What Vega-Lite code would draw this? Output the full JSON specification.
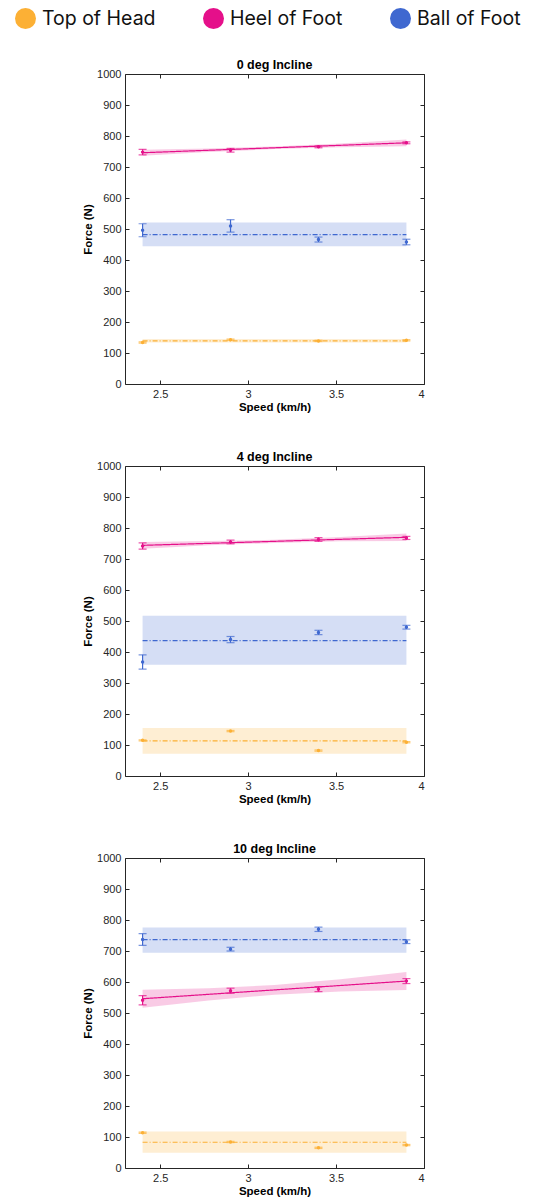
{
  "$schema": "https://vega.github.io/schema/vega-lite/v6.json",
  "background": "white",
  "padding": {"left": 15, "top": 8, "right": 5, "bottom": 0},
  "config": {
    "font": "Liberation Sans",
    "view": {"stroke": "#262626", "strokeWidth": 1},
    "axis": {
      "domain": false,
      "grid": false,
      "tickColor": "#262626",
      "tickSize": -4,
      "labelPadding": 8,
      "labelFont": "Liberation Sans",
      "labelFontSize": 11,
      "labelColor": "#262626",
      "titleFont": "Liberation Sans",
      "titleFontSize": 11.5,
      "titleFontWeight": "bold",
      "titleColor": "#000000"
    }
  },
  "data": {
    "values": [
      {"incline": "0 deg Incline", "series": "Heel of Foot", "kind": "obs", "speed": 2.4, "force": 748, "lo": 739, "hi": 757},
      {"incline": "0 deg Incline", "series": "Heel of Foot", "kind": "obs", "speed": 2.9, "force": 754, "lo": 748, "hi": 760},
      {"incline": "0 deg Incline", "series": "Heel of Foot", "kind": "obs", "speed": 3.4, "force": 765, "lo": 762, "hi": 768},
      {"incline": "0 deg Incline", "series": "Heel of Foot", "kind": "obs", "speed": 3.9, "force": 778, "lo": 775, "hi": 781},
      {"incline": "0 deg Incline", "series": "Heel of Foot", "kind": "fit", "speed": 2.4, "force": 746},
      {"incline": "0 deg Incline", "series": "Heel of Foot", "kind": "fit", "speed": 3.9, "force": 778},
      {"incline": "0 deg Incline", "series": "Heel of Foot", "kind": "band", "speed": 2.4, "lo": 736, "hi": 756},
      {"incline": "0 deg Incline", "series": "Heel of Foot", "kind": "band", "speed": 2.775, "lo": 748, "hi": 760},
      {"incline": "0 deg Incline", "series": "Heel of Foot", "kind": "band", "speed": 3.15, "lo": 758, "hi": 766},
      {"incline": "0 deg Incline", "series": "Heel of Foot", "kind": "band", "speed": 3.525, "lo": 764, "hi": 776},
      {"incline": "0 deg Incline", "series": "Heel of Foot", "kind": "band", "speed": 3.9, "lo": 767, "hi": 789},

      {"incline": "0 deg Incline", "series": "Ball of Foot", "kind": "obs", "speed": 2.4, "force": 496, "lo": 475, "hi": 517},
      {"incline": "0 deg Incline", "series": "Ball of Foot", "kind": "obs", "speed": 2.9, "force": 510, "lo": 490, "hi": 530},
      {"incline": "0 deg Incline", "series": "Ball of Foot", "kind": "obs", "speed": 3.4, "force": 466, "lo": 458, "hi": 474},
      {"incline": "0 deg Incline", "series": "Ball of Foot", "kind": "obs", "speed": 3.9, "force": 458, "lo": 449, "hi": 467},
      {"incline": "0 deg Incline", "series": "Ball of Foot", "kind": "fit", "speed": 2.4, "force": 482},
      {"incline": "0 deg Incline", "series": "Ball of Foot", "kind": "fit", "speed": 3.9, "force": 482},
      {"incline": "0 deg Incline", "series": "Ball of Foot", "kind": "band", "speed": 2.4, "lo": 444, "hi": 521},
      {"incline": "0 deg Incline", "series": "Ball of Foot", "kind": "band", "speed": 3.9, "lo": 444, "hi": 521},

      {"incline": "0 deg Incline", "series": "Top of Head", "kind": "obs", "speed": 2.4, "force": 134, "lo": 132, "hi": 136},
      {"incline": "0 deg Incline", "series": "Top of Head", "kind": "obs", "speed": 2.9, "force": 143, "lo": 141, "hi": 145},
      {"incline": "0 deg Incline", "series": "Top of Head", "kind": "obs", "speed": 3.4, "force": 139, "lo": 137, "hi": 141},
      {"incline": "0 deg Incline", "series": "Top of Head", "kind": "obs", "speed": 3.9, "force": 141, "lo": 139, "hi": 143},
      {"incline": "0 deg Incline", "series": "Top of Head", "kind": "fit", "speed": 2.4, "force": 139},
      {"incline": "0 deg Incline", "series": "Top of Head", "kind": "fit", "speed": 3.9, "force": 139},
      {"incline": "0 deg Incline", "series": "Top of Head", "kind": "band", "speed": 2.4, "lo": 134, "hi": 145},
      {"incline": "0 deg Incline", "series": "Top of Head", "kind": "band", "speed": 3.9, "lo": 134, "hi": 145},

      {"incline": "4 deg Incline", "series": "Heel of Foot", "kind": "obs", "speed": 2.4, "force": 742, "lo": 732, "hi": 752},
      {"incline": "4 deg Incline", "series": "Heel of Foot", "kind": "obs", "speed": 2.9, "force": 755, "lo": 749, "hi": 761},
      {"incline": "4 deg Incline", "series": "Heel of Foot", "kind": "obs", "speed": 3.4, "force": 763, "lo": 757, "hi": 769},
      {"incline": "4 deg Incline", "series": "Heel of Foot", "kind": "obs", "speed": 3.9, "force": 768, "lo": 763, "hi": 773},
      {"incline": "4 deg Incline", "series": "Heel of Foot", "kind": "fit", "speed": 2.4, "force": 744},
      {"incline": "4 deg Incline", "series": "Heel of Foot", "kind": "fit", "speed": 3.9, "force": 770},
      {"incline": "4 deg Incline", "series": "Heel of Foot", "kind": "band", "speed": 2.4, "lo": 733, "hi": 755},
      {"incline": "4 deg Incline", "series": "Heel of Foot", "kind": "band", "speed": 2.775, "lo": 744, "hi": 758},
      {"incline": "4 deg Incline", "series": "Heel of Foot", "kind": "band", "speed": 3.15, "lo": 752, "hi": 762},
      {"incline": "4 deg Incline", "series": "Heel of Foot", "kind": "band", "speed": 3.525, "lo": 757, "hi": 771},
      {"incline": "4 deg Incline", "series": "Heel of Foot", "kind": "band", "speed": 3.9, "lo": 758, "hi": 782},

      {"incline": "4 deg Incline", "series": "Ball of Foot", "kind": "obs", "speed": 2.4, "force": 368, "lo": 345, "hi": 391},
      {"incline": "4 deg Incline", "series": "Ball of Foot", "kind": "obs", "speed": 2.9, "force": 440, "lo": 430, "hi": 450},
      {"incline": "4 deg Incline", "series": "Ball of Foot", "kind": "obs", "speed": 3.4, "force": 463, "lo": 456, "hi": 470},
      {"incline": "4 deg Incline", "series": "Ball of Foot", "kind": "obs", "speed": 3.9, "force": 480, "lo": 474, "hi": 486},
      {"incline": "4 deg Incline", "series": "Ball of Foot", "kind": "fit", "speed": 2.4, "force": 437},
      {"incline": "4 deg Incline", "series": "Ball of Foot", "kind": "fit", "speed": 3.9, "force": 437},
      {"incline": "4 deg Incline", "series": "Ball of Foot", "kind": "band", "speed": 2.4, "lo": 359, "hi": 517},
      {"incline": "4 deg Incline", "series": "Ball of Foot", "kind": "band", "speed": 3.9, "lo": 359, "hi": 517},

      {"incline": "4 deg Incline", "series": "Top of Head", "kind": "obs", "speed": 2.4, "force": 115, "lo": 113, "hi": 117},
      {"incline": "4 deg Incline", "series": "Top of Head", "kind": "obs", "speed": 2.9, "force": 145, "lo": 143, "hi": 147},
      {"incline": "4 deg Incline", "series": "Top of Head", "kind": "obs", "speed": 3.4, "force": 82, "lo": 80, "hi": 84},
      {"incline": "4 deg Incline", "series": "Top of Head", "kind": "obs", "speed": 3.9, "force": 109, "lo": 107, "hi": 111},
      {"incline": "4 deg Incline", "series": "Top of Head", "kind": "fit", "speed": 2.4, "force": 113},
      {"incline": "4 deg Incline", "series": "Top of Head", "kind": "fit", "speed": 3.9, "force": 113},
      {"incline": "4 deg Incline", "series": "Top of Head", "kind": "band", "speed": 2.4, "lo": 72, "hi": 155},
      {"incline": "4 deg Incline", "series": "Top of Head", "kind": "band", "speed": 3.9, "lo": 72, "hi": 155},

      {"incline": "10 deg Incline", "series": "Heel of Foot", "kind": "obs", "speed": 2.4, "force": 541, "lo": 526, "hi": 556},
      {"incline": "10 deg Incline", "series": "Heel of Foot", "kind": "obs", "speed": 2.9, "force": 572, "lo": 564, "hi": 580},
      {"incline": "10 deg Incline", "series": "Heel of Foot", "kind": "obs", "speed": 3.4, "force": 577, "lo": 569, "hi": 585},
      {"incline": "10 deg Incline", "series": "Heel of Foot", "kind": "obs", "speed": 3.9, "force": 603, "lo": 595, "hi": 611},
      {"incline": "10 deg Incline", "series": "Heel of Foot", "kind": "fit", "speed": 2.4, "force": 546},
      {"incline": "10 deg Incline", "series": "Heel of Foot", "kind": "fit", "speed": 3.9, "force": 603},
      {"incline": "10 deg Incline", "series": "Heel of Foot", "kind": "band", "speed": 2.4, "lo": 517, "hi": 575},
      {"incline": "10 deg Incline", "series": "Heel of Foot", "kind": "band", "speed": 2.775, "lo": 540, "hi": 580},
      {"incline": "10 deg Incline", "series": "Heel of Foot", "kind": "band", "speed": 3.15, "lo": 559, "hi": 590},
      {"incline": "10 deg Incline", "series": "Heel of Foot", "kind": "band", "speed": 3.525, "lo": 569, "hi": 609},
      {"incline": "10 deg Incline", "series": "Heel of Foot", "kind": "band", "speed": 3.9, "lo": 574, "hi": 632},

      {"incline": "10 deg Incline", "series": "Ball of Foot", "kind": "obs", "speed": 2.4, "force": 737, "lo": 718, "hi": 756},
      {"incline": "10 deg Incline", "series": "Ball of Foot", "kind": "obs", "speed": 2.9, "force": 706, "lo": 700, "hi": 712},
      {"incline": "10 deg Incline", "series": "Ball of Foot", "kind": "obs", "speed": 3.4, "force": 770, "lo": 763, "hi": 777},
      {"incline": "10 deg Incline", "series": "Ball of Foot", "kind": "obs", "speed": 3.9, "force": 730, "lo": 724, "hi": 736},
      {"incline": "10 deg Incline", "series": "Ball of Foot", "kind": "fit", "speed": 2.4, "force": 737},
      {"incline": "10 deg Incline", "series": "Ball of Foot", "kind": "fit", "speed": 3.9, "force": 737},
      {"incline": "10 deg Incline", "series": "Ball of Foot", "kind": "band", "speed": 2.4, "lo": 694, "hi": 776},
      {"incline": "10 deg Incline", "series": "Ball of Foot", "kind": "band", "speed": 3.9, "lo": 694, "hi": 776},

      {"incline": "10 deg Incline", "series": "Top of Head", "kind": "obs", "speed": 2.4, "force": 114, "lo": 112, "hi": 116},
      {"incline": "10 deg Incline", "series": "Top of Head", "kind": "obs", "speed": 2.9, "force": 84, "lo": 82, "hi": 86},
      {"incline": "10 deg Incline", "series": "Top of Head", "kind": "obs", "speed": 3.4, "force": 65, "lo": 63, "hi": 67},
      {"incline": "10 deg Incline", "series": "Top of Head", "kind": "obs", "speed": 3.9, "force": 74, "lo": 72, "hi": 76},
      {"incline": "10 deg Incline", "series": "Top of Head", "kind": "fit", "speed": 2.4, "force": 83},
      {"incline": "10 deg Incline", "series": "Top of Head", "kind": "fit", "speed": 3.9, "force": 83},
      {"incline": "10 deg Incline", "series": "Top of Head", "kind": "band", "speed": 2.4, "lo": 49, "hi": 118},
      {"incline": "10 deg Incline", "series": "Top of Head", "kind": "band", "speed": 3.9, "lo": 49, "hi": 118}
    ]
  },
  "facet": {
    "row": {
      "field": "incline",
      "type": "nominal",
      "sort": ["0 deg Incline", "4 deg Incline", "10 deg Incline"],
      "header": {
        "title": null,
        "labelOrient": "top",
        "labelAngle": 0,
        "labelFont": "Liberation Sans",
        "labelFontSize": 12.5,
        "labelFontWeight": "bold",
        "labelColor": "#000000",
        "labelPadding": -16
      }
    }
  },
  "spacing": {"row": 37},
  "resolve": {"axis": {"x": "independent", "y": "independent"}},
  "spec": {
    "width": 299,
    "height": 310,
    "encoding": {
      "x": {
        "field": "speed",
        "type": "quantitative",
        "scale": {"domain": [2.3, 4], "nice": false},
        "axis": null
      },
      "y": {
        "field": "force",
        "type": "quantitative",
        "scale": {"domain": [0, 1000], "nice": false},
        "axis": null
      },
      "color": {
        "field": "series",
        "type": "nominal",
        "scale": {
          "domain": ["Top of Head", "Heel of Foot", "Ball of Foot"],
          "range": ["#FCB035", "#E5108A", "#3F68D0"]
        },
        "legend": {
          "title": null,
          "orient": "none",
          "legendX": -110,
          "legendY": -66,
          "direction": "horizontal",
          "symbolType": "circle",
          "symbolSize": 441,
          "symbolStrokeWidth": 0,
          "symbolOpacity": 1,
          "labelFont": "Inter",
          "labelFontSize": 19.5,
          "labelColor": "#111111",
          "labelOffset": 6,
          "columnPadding": 47,
          "labelLimit": 300
        }
      }
    },
    "layer": [
      {
        "transform": [{"filter": "datum.kind == 'band'"}],
        "mark": {"type": "area", "opacity": 0.22},
        "encoding": {
          "x": {
            "field": "speed",
            "type": "quantitative",
            "axis": {"orient": "bottom", "values": [2.5, 3, 3.5, 4], "format": "~g", "title": "Speed (km/h)", "titlePadding": 2}
          },
          "y": {
            "field": "lo",
            "type": "quantitative",
            "axis": {"orient": "left", "values": [0, 100, 200, 300, 400, 500, 600, 700, 800, 900, 1000], "format": "d", "title": "Force (N)", "titlePadding": 3}
          },
          "y2": {"field": "hi"}
        }
      },
      {
        "transform": [{"filter": "datum.kind == 'fit'"}],
        "mark": {"type": "line", "strokeWidth": 1.2},
        "encoding": {
          "x": {
            "field": "speed",
            "type": "quantitative",
            "axis": {"orient": "top", "values": [2.5, 3, 3.5, 4], "labels": false, "title": null}
          },
          "y": {
            "field": "force",
            "type": "quantitative",
            "axis": {"orient": "right", "values": [0, 100, 200, 300, 400, 500, 600, 700, 800, 900, 1000], "labels": false, "title": null}
          },
          "strokeDash": {
            "field": "series",
            "type": "nominal",
            "scale": {
              "domain": ["Top of Head", "Heel of Foot", "Ball of Foot"],
              "range": [[5, 2, 1, 2], [1, 0], [5, 2, 1, 2]]
            },
            "legend": null
          }
        }
      },
      {
        "transform": [{"filter": "datum.kind == 'obs'"}],
        "mark": {"type": "rule", "strokeWidth": 1.2},
        "encoding": {
          "y": {"field": "lo", "type": "quantitative", "axis": null},
          "y2": {"field": "hi"}
        }
      },
      {
        "transform": [{"filter": "datum.kind == 'obs'"}],
        "mark": {"type": "tick", "orient": "horizontal", "size": 8, "thickness": 1.2},
        "encoding": {"y": {"field": "lo", "type": "quantitative", "axis": null}}
      },
      {
        "transform": [{"filter": "datum.kind == 'obs'"}],
        "mark": {"type": "tick", "orient": "horizontal", "size": 8, "thickness": 1.2},
        "encoding": {"y": {"field": "hi", "type": "quantitative", "axis": null}}
      },
      {
        "transform": [{"filter": "datum.kind == 'obs'"}],
        "mark": {"type": "point", "shape": "circle", "filled": true, "size": 12, "opacity": 1}
      }
    ]
  }
}
